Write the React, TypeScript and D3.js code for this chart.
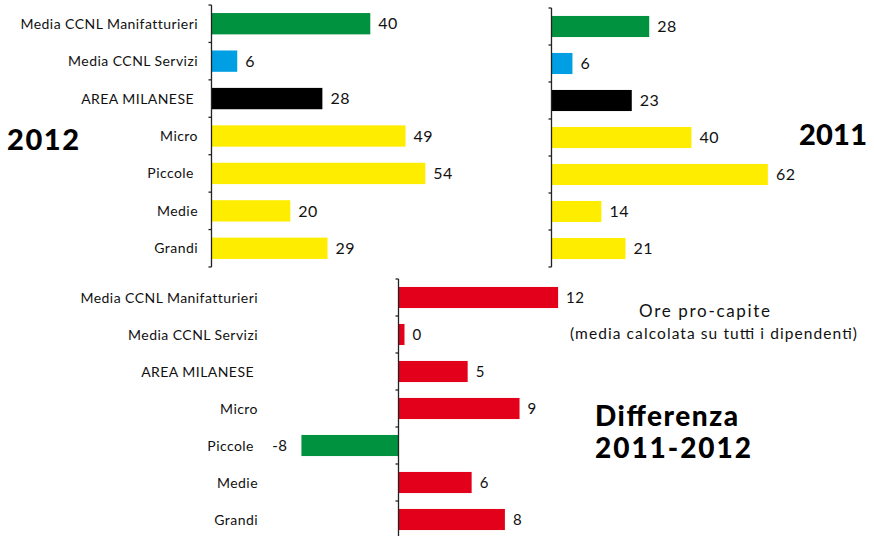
import React from "react";
import * as d3 from "d3";

const categories = [
  "Media CCNL Manifatturieri",
  "Media CCNL Servizi",
  "AREA MILANESE ",
  "Micro",
  "Piccole ",
  "Medie",
  "Grandi",
];
const barColors = ["#00923F", "#009FE3", "#000000", "#FFED00", "#FFED00", "#FFED00", "#FFED00"];

const values2012 = [40.1, 6.5, 28, 49, 54, 19.9, 29.3];
const labels2012 = ["40", "6", "28", "49", "54", "20", "29"];
const values2011 = [28, 6, 23, 40.1, 62, 14.3, 21.2];
const labels2011 = ["28", "6", "23", "40", "62", "14", "21"];
const valuesDiff = [12, 0.45, 5.2, 9.1, -7.3, 5.5, 8];
const labelsDiff = ["12", "0", "5", "9", "-8", "6", "8"];

const FONT = "Lato, 'Open Sans', sans-serif";

type PanelProps = {
  values: number[];
  labels: string[];
  colors: (v: number, i: number) => string;
  axisX: number;
  y0: number;
  y1: number;
  pxPerUnit: number;
  showCats: boolean;
  catRight?: number;
  labelSize: number;
};

function Panel({ values, labels, colors, axisX, y0, y1, pxPerUnit, showCats, catRight, labelSize }: PanelProps) {
  const y = d3.scaleBand<string>().domain(categories).range([y0, y1]).paddingInner(0.43).paddingOuter(0.215);
  const x = d3.scaleLinear().domain([0, 1]).range([axisX, axisX + pxPerUnit]);
  const tickScale = d3.scaleLinear().domain([0, categories.length]).range([y0, y1]);
  const ticks = d3.range(0, categories.length + 1);
  return (
    <g>
      {values.map((v, i) => {
        const c = categories[i];
        const yy = y(c)!;
        const bx = Math.min(x(0), x(v));
        const bw = Math.abs(x(v) - x(0));
        const cy = yy + y.bandwidth() / 2;
        const neg = v < 0;
        return (
          <g key={c}>
            <rect x={bx} y={yy} width={bw} height={y.bandwidth()} fill={colors(v, i)} />
            <text
              x={neg ? x(v) - 14 : x(v) + 8}
              y={cy}
              dy="0.36em"
              textAnchor={neg ? "end" : "start"}
              fontSize={labelSize}
              fontFamily={FONT}
              letterSpacing={0.5}
              fill="#111"
            >
              {labels[i]}
            </text>
            {showCats && (
              <text
                x={catRight}
                y={cy}
                dy="0.36em"
                textAnchor="end"
                fontSize={14}
                letterSpacing={0.45}
                fontFamily={FONT}
                fill="#111"
                style={{ whiteSpace: "pre" }}
              >
                {c}
              </text>
            )}
          </g>
        );
      })}
      <line x1={axisX} x2={axisX} y1={y0} y2={y1} stroke="#222" strokeWidth={1.3} />
      {ticks.map((t) => (
        <line key={t} x1={axisX - 3} x2={axisX} y1={tickScale(t)} y2={tickScale(t)} stroke="#222" strokeWidth={1.3} />
      ))}
    </g>
  );
}

export default function App() {
  return (
    <svg
      width={874}
      height={536}
      style={{ position: "absolute", left: 0, top: 0, background: "#fff" }}
      xmlSpace="preserve"
    >
      <rect width={874} height={536} fill="#fff" />
      <Panel
        values={values2012}
        labels={labels2012}
        colors={(_, i) => barColors[i]}
        axisX={211.5}
        y0={5}
        y1={267}
        pxPerUnit={3.96}
        showCats={true}
        catRight={198}
        labelSize={16}
      />
      <Panel
        values={values2011}
        labels={labels2011}
        colors={(_, i) => barColors[i]}
        axisX={551.5}
        y0={8}
        y1={267}
        pxPerUnit={3.49}
        showCats={false}
        labelSize={16}
      />
      <Panel
        values={valuesDiff}
        labels={labelsDiff}
        colors={(v) => (v < 0 ? "#00923F" : "#E2001A")}
        axisX={398.5}
        y0={279}
        y1={538}
        pxPerUnit={13.3}
        showCats={true}
        catRight={258}
        labelSize={15}
      />
      <text x={7} y={140} dy="0.36em" fontSize={29} fontWeight={900} fontFamily={FONT} fill="#000" textLength={72} lengthAdjust="spacing">2012</text>
      <text x={799} y={135} dy="0.36em" fontSize={29} fontWeight={900} fontFamily={FONT} fill="#000" textLength={68} lengthAdjust="spacing">2011</text>
      <text x={639} y={311} dy="0.36em" fontSize={17} fontFamily={FONT} fill="#111" textLength={131} lengthAdjust="spacing">Ore pro-capite</text>
      <text x={570} y={333} dy="0.36em" fontSize={15.5} fontFamily={FONT} fill="#111" textLength={287} lengthAdjust="spacing">(media calcolata su tutti i dipendenti)</text>
      <text x={595} y={416} dy="0.36em" fontSize={28} fontWeight={900} fontFamily={FONT} fill="#000" textLength={143} lengthAdjust="spacing">Differenza</text>
      <text x={595} y={448} dy="0.36em" fontSize={28} fontWeight={900} fontFamily={FONT} fill="#000" textLength={156} lengthAdjust="spacing">2011-2012</text>
    </svg>
  );
}
